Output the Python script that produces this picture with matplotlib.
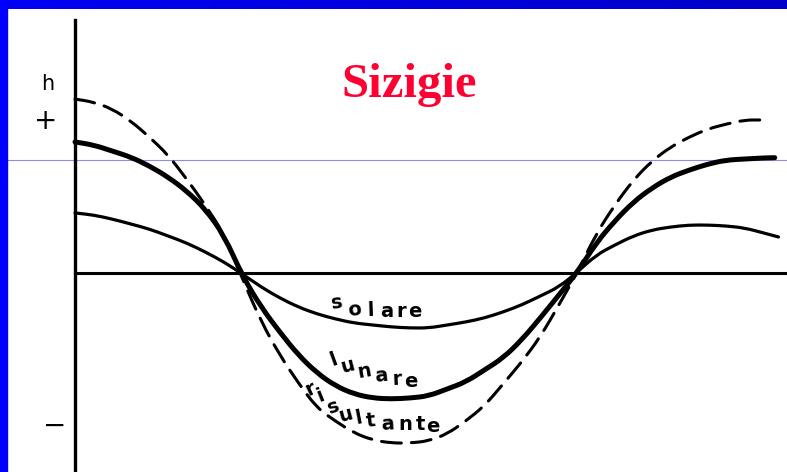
import matplotlib
matplotlib.use("Agg")
import matplotlib.pyplot as plt
import numpy as np
from matplotlib.colors import LinearSegmentedColormap
from matplotlib.patches import PathPatch
from matplotlib.path import Path

# fase (gradi) e altezza di marea h (unità relative, lunare = 1)
PHASE = list(range(0, 380, 10))

LUNARE_X = PHASE + [376]
LUNARE_H = [1.008, 0.985, 0.938, 0.892, 0.823, 0.738, 0.631, 0.492, 0.292, -0.023,
            -0.262, -0.454, -0.631, -0.769, -0.869, -0.931, -0.962, -0.969, -0.962, -0.946,
            -0.892, -0.838, -0.746, -0.654, -0.515, -0.346, -0.169, 0.008, 0.230, 0.400,
            0.546, 0.654, 0.738, 0.792, 0.838, 0.869, 0.877, 0.885, 0.887]

SOLARE_X = PHASE + [378]
SOLARE_H = [0.462, 0.446, 0.415, 0.377, 0.338, 0.285, 0.231, 0.162, 0.085, -0.008,
            -0.108, -0.192, -0.262, -0.315, -0.354, -0.385, -0.400, -0.415, -0.423, -0.423,
            -0.400, -0.377, -0.346, -0.300, -0.246, -0.177, -0.108, 0.008, 0.138, 0.215,
            0.285, 0.331, 0.354, 0.369, 0.369, 0.362, 0.346, 0.308, 0.277]

RISULT_X = PHASE[:-1] + [368]
RISULT_H = [1.338, 1.315, 1.262, 1.169, 1.046, 0.908, 0.723, 0.523, 0.300, -0.046,
            -0.373, -0.631, -0.846, -1.038, -1.140, -1.231, -1.285, -1.308, -1.308, -1.292,
            -1.238, -1.138, -1.023, -0.854, -0.685, -0.492, -0.246, 0.008, 0.300, 0.523,
            0.715, 0.862, 0.969, 1.046, 1.108, 1.146, 1.177, 1.177]

TITLE = "Sizigie"

# etichette scritte lettera per lettera lungo le curve: (x, h, rotazione)
LABELS = {
    "solare": [(141.3, -0.269, 8), (150.4, -0.323, 5), (159.0, -0.327, 2),
               (167.6, -0.335, 0), (175.2, -0.338, 0), (182.7, -0.338, 0)],
    "lunare": [(140.1, -0.708, 20), (147.2, -0.759, 15), (155.8, -0.798, 10),
               (164.8, -0.836, 6), (172.9, -0.862, 3), (180.4, -0.875, 0)],
    "risultante": [(127.9, -0.931, 25), (132.7, -0.985, 22), (139.7, -1.069, 20),
                   (146.3, -1.135, 15), (153.1, -1.156, 11), (159.4, -1.182, 7),
                   (167.8, -1.208, 3), (177.3, -1.208, 0), (185.4, -1.208, 0),
                   (192.5, -1.221, 0)],
}


def smooth_path(xs, ys):
    # B-spline quadratica: i punti letti fanno da controllo
    pts = np.column_stack([xs, ys]).astype(float)
    verts = [pts[0], (pts[0] + pts[1]) / 2]
    codes = [Path.MOVETO, Path.LINETO]
    for i in range(1, len(pts) - 1):
        verts += [pts[i], (pts[i] + pts[i + 1]) / 2]
        codes += [Path.CURVE3, Path.CURVE3]
    verts.append(pts[-1])
    codes.append(Path.LINETO)
    return Path(verts, codes)


def draw_curve(ax, xs, ys, **kw):
    patch = PathPatch(smooth_path(xs, ys), fill=False, edgecolor="black",
                      capstyle="round", joinstyle="round", zorder=3, **kw)
    ax.add_patch(patch)


def curved_label(ax, word, placement):
    for ch, (x, y, rot) in zip(word, placement):
        ax.text(x, y, ch, rotation=rot, rotation_mode="anchor", ha="center",
                va="baseline", fontsize=14, fontweight="bold",
                family="DejaVu Sans", color="black", zorder=5)


fig = plt.figure(figsize=(7.87, 4.72), dpi=100)
fig.patch.set_facecolor("white")

ax = fig.add_axes([0, 0, 1, 1])
ax.set_xlim(-40.30, 382.57)
ax.set_ylim(-1.5308, 2.1)
ax.set_xticks([])
ax.set_yticks([])
ax.patch.set_alpha(0)

for side in ("top", "right"):
    ax.spines[side].set_visible(False)
ax.spines["left"].set_position(("data", 0))
ax.spines["left"].set_bounds(-1.5308, 1.946)
ax.spines["left"].set_linewidth(2.4)
ax.spines["bottom"].set_position(("data", 0))
ax.spines["bottom"].set_bounds(0, 381.5)
ax.spines["bottom"].set_linewidth(2.2)

# linea di riferimento orizzontale
ax.axhline(0.869, xmin=7 / 787, xmax=1, color="#8c8ce6", lw=0.8, zorder=1)

draw_curve(ax, SOLARE_X, SOLARE_H, lw=2.3)
draw_curve(ax, LUNARE_X, LUNARE_H, lw=3.6)
draw_curve(ax, RISULT_X, RISULT_H, lw=2.2, linestyle=(0, (6.5, 3.3)))

for word, placement in LABELS.items():
    curved_label(ax, word, placement)

ax.text(-14.8, 1.454, "h", ha="center", va="center", fontsize=15, family="DejaVu Sans")
ax.text(-15.9, 1.169, "+", ha="center", va="center", fontsize=20, family="DejaVu Sans")
ax.text(-11.0, -1.177, "\u2212", ha="center", va="center", fontsize=20, family="DejaVu Sans")

ax.text(179.5, 1.354, TITLE, ha="center", va="baseline", fontsize=35,
        fontweight="bold", family="Liberation Serif", color="#ff0033")

# cornice blu
ax_top = fig.add_axes([0, 1 - 9 / 472, 1, 9 / 472])
cmap = LinearSegmentedColormap.from_list("bar", ["#0000f5", "#0000c8"])
ax_top.imshow(np.linspace(0, 1, 256)[None, :], aspect="auto", cmap=cmap)
ax_top.set_axis_off()
fig.patches.append(plt.Rectangle((0, 0), 7 / 787, 1, transform=fig.transFigure,
                                 color="#0000ff", zorder=10))

fig.savefig("out.png", dpi=100)
